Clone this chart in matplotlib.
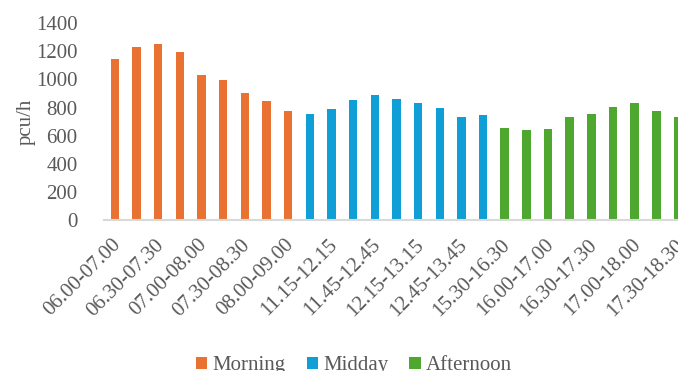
import numpy as np
import matplotlib
matplotlib.use("Agg")
import matplotlib.pyplot as plt
import matplotlib.transforms as mtransforms
from matplotlib.patches import Patch

# data
periods = ["Morning", "Midday", "Afternoon"]
colors = ["#E97132", "#0F9ED5", "#4EA72E"]
morning = [1145, 1230, 1250, 1195, 1035, 995, 907, 847, 775]
midday = [752, 790, 857, 888, 864, 833, 795, 736, 745]
afternoon = [655, 641, 648, 731, 755, 807, 833, 776, 736]
tick_labels = ["06.00-07.00", "06.30-07.30", "07.00-08.00", "07.30-08.30",
               "08.00-09.00", "11.15-12.15", "11.45-12.45", "12.15-13.15",
               "12.45-13.45", "15.30-16.30", "16.00-17.00", "16.30-17.30",
               "17.00-18.00", "17.30-18.30"]

text_col = "#595959"
plt.rcParams['font.family'] = ['Liberation Serif', 'DejaVu Serif']

fig = plt.figure(figsize=(6.78, 3.71), dpi=100)
ax = fig.add_axes([104 / 678, 151 / 371, 574 / 678, 196.7 / 371])

start = 0
for name, vals, col in zip(periods, [morning, midday, afternoon], colors):
    x = np.arange(start, start + len(vals))
    ax.bar(x, vals, width=0.39, color=col, label=name)
    start += len(vals)

ax.set_xlim(-0.5, 25.97)
ax.set_ylim(0, 1400)
ax.set_yticks(np.arange(0, 1401, 200))
ax.set_xticks(np.arange(0, start, 2))
ax.set_xticklabels(tick_labels, rotation=45, ha='right', va='center',
                   rotation_mode='anchor')
ax.tick_params(axis='both', length=0, labelsize=15, colors=text_col)
ax.tick_params(axis='x', pad=16)
ax.tick_params(axis='y', pad=19)
offset = mtransforms.ScaledTranslation(3 / 100, 0, fig.dpi_scale_trans)
for lab in ax.get_xticklabels():
    lab.set_transform(lab.get_transform() + offset)

for s in ['left', 'right', 'top']:
    ax.spines[s].set_visible(False)
ax.spines['bottom'].set_color('#D9D9D9')
ax.spines['bottom'].set_linewidth(1.5)
ax.set_ylabel("pcu/h", fontsize=15, color=text_col, labelpad=0)

handles = [Patch(facecolor=c) for c in colors]
fig.legend(handles, periods, loc='upper center', bbox_to_anchor=(354 / 678, 1 - 346 / 371),
           ncol=3, frameon=False, fontsize=15, handlelength=0.55, handleheight=0.55,
           handletextpad=0.25, columnspacing=1.0, borderpad=0, labelcolor=text_col)

fig.savefig("out.png", dpi=100)
